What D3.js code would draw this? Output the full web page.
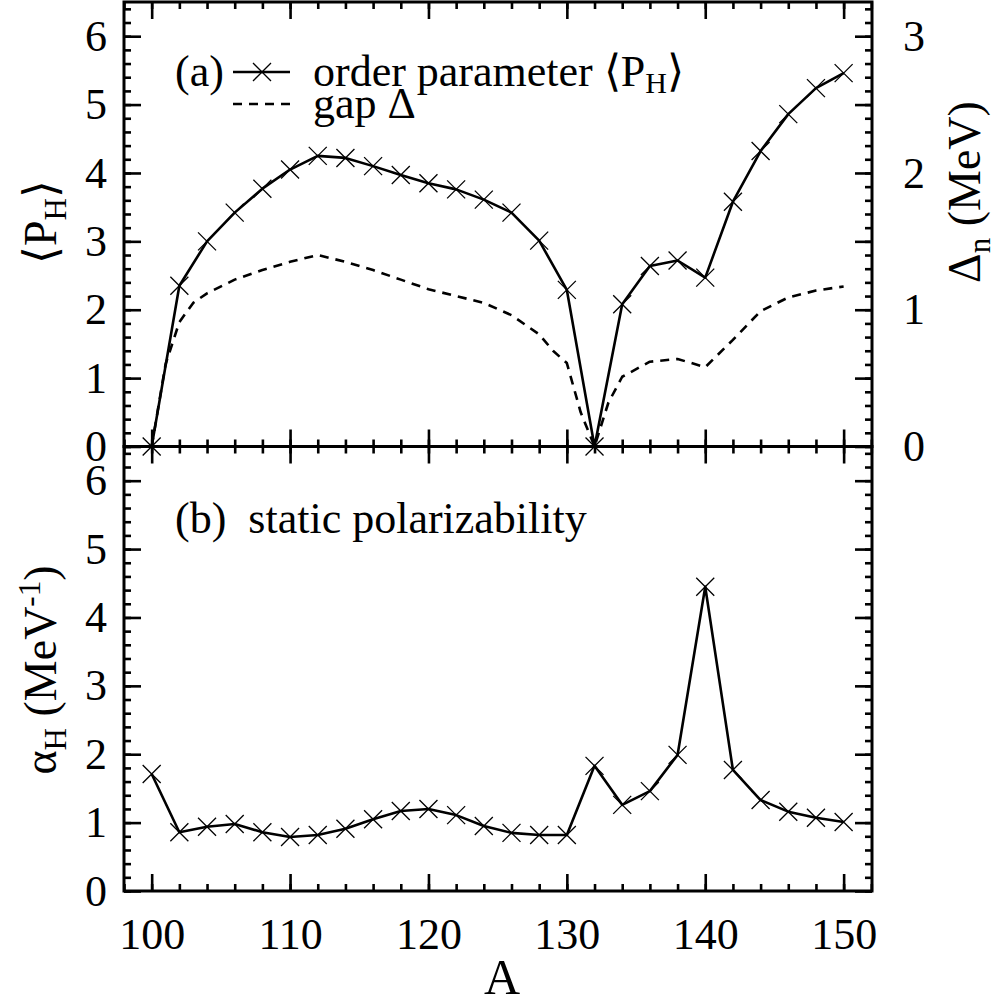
<!DOCTYPE html>
<html>
<head>
<meta charset='utf-8'>
<script src='https://cdn.jsdelivr.net/npm/d3@7'></script>
<style>
	svg text, svg tspan { font-family: 'Liberation Serif', Tinos, 'Times New Roman', serif !important; }
</style>
</head>
<body style="margin:0">
<script>
// mass number A, one marker every 2
var massA = [100, 102, 104, 106, 108, 110, 112, 114, 116, 118, 120, 122, 124,
	126, 128, 130, 132, 134, 136, 138, 140, 142, 144, 146, 148, 150];
// (a) order parameter <P_H>
var orderParam = [0, 2.35, 3.0, 3.42, 3.77, 4.05, 4.25, 4.22, 4.1, 3.97, 3.85, 3.76, 3.61,
	3.42, 3.01, 2.29, 0, 2.08, 2.64, 2.72, 2.47, 3.58, 4.32, 4.86, 5.24, 5.46];
// (b) static polarizability alpha_H (MeV^-1)
var polarizability = [1.71, 0.86, 0.94, 0.98, 0.86, 0.79, 0.82, 0.91, 1.05, 1.17, 1.2, 1.11, 0.95,
	0.85, 0.82, 0.82, 1.83, 1.26, 1.46, 1.99, 4.45, 1.77, 1.33, 1.16, 1.07, 1.01];
// (a) gap Delta_n (MeV), right axis
var gapA = [100, 101, 102, 103, 104, 106, 108, 110, 112, 114, 116, 118, 120, 122, 124, 126,
	128, 129, 130, 131, 132, 133, 134, 136, 138, 140, 142, 144, 146, 148, 150];
var gapMeV = [0, 0.6, 0.91, 1.05, 1.12, 1.22, 1.29, 1.35, 1.40, 1.35, 1.29, 1.22, 1.15, 1.10, 1.05, 0.96,
	0.82, 0.70, 0.61, 0.25, 0, 0.32, 0.51, 0.62, 0.64, 0.58, 0.78, 0.99, 1.09, 1.14, 1.17];

var xTicks = [100, 110, 120, 130, 140, 150];
var yTicks = [0, 1, 2, 3, 4, 5, 6];
var gapTicks = [0, 1, 2, 3];

var width = 1002, height = 1004;
var fLeft = 124, fRight = 872, fTop = 2, fMid = 446.5, fBottom = 891;
var fontSize = 44;
var serifFace = "'Liberation Serif', Tinos, 'Times New Roman', serif";

var svg = d3.select('body').append('svg').attr('width', width).attr('height', height)
	.attr('font-family', serifFace).style('font-family', serifFace);

var x = d3.scaleLinear().domain([98, 152.05]).range([fLeft, fRight]);
var yTop = d3.scaleLinear().domain([0, 6.5]).range([fMid, fTop]);
var yGap = d3.scaleLinear().domain([0, 3.25]).range([fMid, fTop]);
var yBot = d3.scaleLinear().domain([0, 6.5]).range([fBottom, fMid]);

function drawAxis(pos, axis) {
	var g = svg.append('g').attr('transform', pos).call(axis);
	g.select('.domain').remove();
	g.attr('font-size', fontSize).attr('font-family', serifFace).style('font-family', serifFace);
	g.selectAll('line').attr('stroke', '#000').attr('stroke-width', 2.6);
	g.selectAll('text').attr('fill', '#000').attr('font-size', fontSize)
		.attr('font-family', serifFace).style('font-family', serifFace);
	return g;
}

var minorX = d3.range(98, 152.1, 2);
var minorY = d3.range(0, 6.51, 0.2);
var bigTick = -17, smallTick = -7;
var fmt = d3.format('d');

// ticks of both panels
[[yTop, fTop, fMid], [yBot, fMid, fBottom]].forEach(function (p) {
	var y = p[0];
	drawAxis('translate(' + fLeft + ',0)', d3.axisLeft(y).tickValues(yTicks).tickSize(bigTick).tickPadding(17).tickFormat(fmt).tickSizeOuter(0));
	drawAxis('translate(' + fLeft + ',0)', d3.axisLeft(y).tickValues(minorY).tickSize(smallTick).tickFormat('').tickSizeOuter(0));
	drawAxis('translate(0,' + p[1] + ')', d3.axisTop(x).tickValues(xTicks).tickSize(bigTick).tickFormat('').tickSizeOuter(0));
	drawAxis('translate(0,' + p[1] + ')', d3.axisTop(x).tickValues(minorX).tickSize(smallTick).tickFormat('').tickSizeOuter(0));
	drawAxis('translate(0,' + p[2] + ')', d3.axisBottom(x).tickValues(minorX).tickSize(smallTick).tickFormat('').tickSizeOuter(0));
});
drawAxis('translate(0,' + fMid + ')', d3.axisBottom(x).tickValues(xTicks).tickSize(bigTick).tickFormat('').tickSizeOuter(0));
drawAxis('translate(0,' + fBottom + ')', d3.axisBottom(x).tickValues(xTicks).tickSize(bigTick).tickPadding(27).tickFormat(fmt).tickSizeOuter(0));

// right side: gap axis on top panel, mirror ticks on bottom panel
drawAxis('translate(' + fRight + ',0)', d3.axisRight(yGap).tickValues(gapTicks).tickSize(bigTick).tickPadding(31).tickFormat(fmt).tickSizeOuter(0))
	.selectAll('text').attr('text-anchor', 'start');
drawAxis('translate(' + fRight + ',0)', d3.axisRight(yGap).tickValues([0.5, 1.5, 2.5]).tickSize(bigTick).tickFormat('').tickSizeOuter(0));
drawAxis('translate(' + fRight + ',0)', d3.axisRight(yGap).tickValues(d3.range(0, 3.251, 0.1)).tickSize(smallTick).tickFormat('').tickSizeOuter(0));
drawAxis('translate(' + fRight + ',0)', d3.axisRight(yBot).tickValues(yTicks).tickSize(bigTick).tickFormat('').tickSizeOuter(0));
drawAxis('translate(' + fRight + ',0)', d3.axisRight(yBot).tickValues(minorY).tickSize(smallTick).tickFormat('').tickSizeOuter(0));

// frames
[[fTop, fMid], [fMid, fBottom]].forEach(function (p) {
	svg.append('rect').attr('x', fLeft).attr('y', p[0]).attr('width', fRight - fLeft).attr('height', p[1] - p[0])
		.attr('fill', 'none').attr('stroke', '#000').attr('stroke-width', 3);
});

var cross = 'M-9,-9L9,9M-9,9L9,-9';

function drawSeries(xs, ys, yScale, dashed, markers) {
	var pts = xs.map(function (a, i) { return [a, ys[i]]; });
	var line = d3.line().x(function (d) { return x(d[0]); }).y(function (d) { return yScale(d[1]); });
	svg.append('path').datum(pts).attr('d', line).attr('fill', 'none').attr('stroke', '#000')
		.attr('stroke-width', 2.6).attr('stroke-linejoin', 'round')
		.attr('stroke-dasharray', dashed ? '9,7' : null);
	if (markers) {
		svg.selectAll(null).data(pts).enter().append('path')
			.attr('transform', function (d) { return 'translate(' + x(d[0]) + ',' + yScale(d[1]) + ')'; })
			.attr('d', cross).attr('stroke', '#000').attr('stroke-width', 1.3).attr('fill', 'none');
	}
}

drawSeries(gapA, gapMeV, yGap, true, false);
drawSeries(massA, orderParam, yTop, false, true);
drawSeries(massA, polarizability, yBot, false, true);

function label(x0, y0, size) {
	return svg.append('text').attr('x', x0).attr('y', y0).attr('font-size', size)
		.attr('font-family', serifFace).style('font-family', serifFace);
}

// legend of (a)
label(175, 86, fontSize).text('(a)');
svg.append('line').attr('x1', 233).attr('x2', 290).attr('y1', 72).attr('y2', 72).attr('stroke', '#000').attr('stroke-width', 2.6);
svg.append('path').attr('transform', 'translate(262,72)').attr('d', cross).attr('stroke', '#000').attr('stroke-width', 1.3);
var t1 = label(313, 86, fontSize);
t1.append('tspan').text('order parameter \u27E8P');
t1.append('tspan').attr('font-size', 30).attr('dy', 7).text('H');
t1.append('tspan').attr('dy', -7).text('\u27E9');
svg.append('line').attr('x1', 233).attr('x2', 290).attr('y1', 104).attr('y2', 104).attr('stroke', '#000')
	.attr('stroke-width', 2.6).attr('stroke-dasharray', '9,7');
label(313, 118, fontSize).text('gap \u0394');

// label of (b)
label(175, 533, fontSize).attr('xml:space', 'preserve').text('(b)  static polarizability');

// axis titles
var yl1 = label(0, 0, 46).attr('transform', 'translate(56,222) rotate(-90)').attr('text-anchor', 'middle');
yl1.append('tspan').text('\u27E8P');
yl1.append('tspan').attr('font-size', 31).attr('dy', 10).text('H');
yl1.append('tspan').attr('dy', -10).text('\u27E9');

var yl2 = label(0, 0, 46).attr('transform', 'translate(56,670) rotate(-90)').attr('text-anchor', 'middle');
yl2.append('tspan').text('\u03B1');
yl2.append('tspan').attr('font-size', 31).attr('dy', 10).text('H');
yl2.append('tspan').attr('dy', -10).text(' (MeV');
yl2.append('tspan').attr('font-size', 31).attr('dy', -16).text('-1');
yl2.append('tspan').attr('dy', 16).text(')');

var yr = label(0, 0, 46).attr('transform', 'translate(980,192) rotate(-90)').attr('text-anchor', 'middle');
yr.append('tspan').text('\u0394');
yr.append('tspan').attr('font-size', 31).attr('dy', 10).text('n');
yr.append('tspan').attr('dy', -10).text(' (MeV)');

label(502, 994, 50).attr('text-anchor', 'middle').text('A');
</script>
</body>
</html>
